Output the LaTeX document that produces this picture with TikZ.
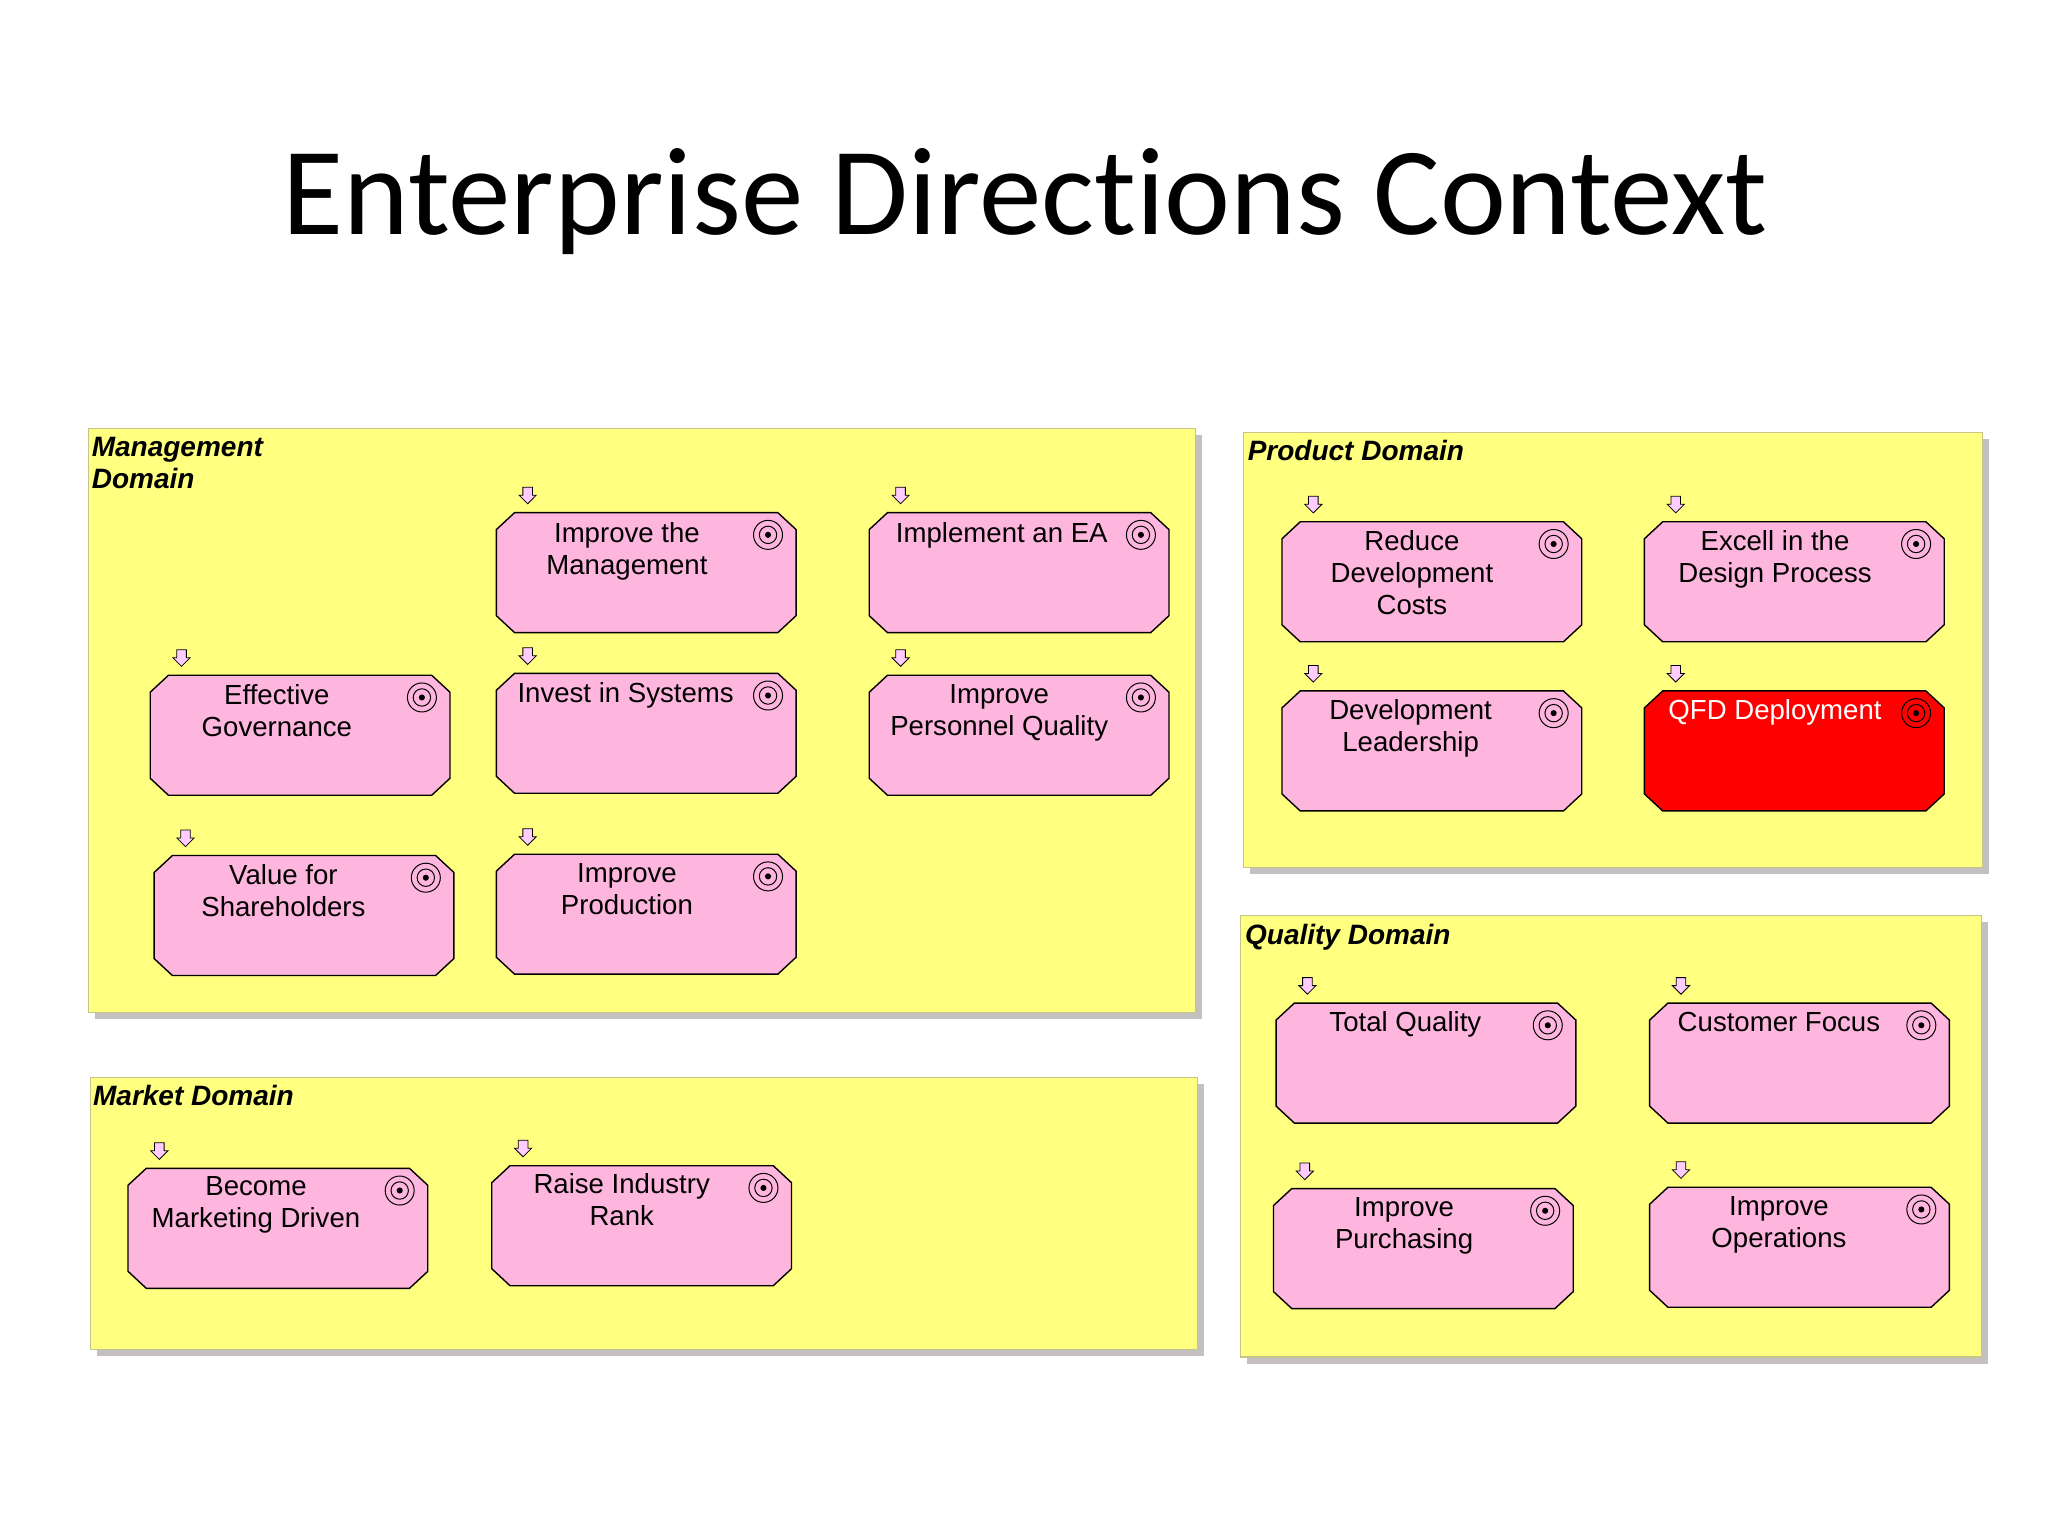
\documentclass[tikz,border=0pt]{standalone}
\usepackage{fontspec}
\setmainfont{Liberation Sans}
\newfontfamily\titlefont[Ligatures=NoCommon]{Carlito}
\usetikzlibrary{shapes.arrows}
\definecolor{panelyellow}{HTML}{FFFF80}
\definecolor{panelline}{HTML}{C4C48C}
\definecolor{panelshade}{HTML}{C4C0C0}
\definecolor{goalpink}{HTML}{FFB6DE}
\definecolor{arrowpink}{HTML}{FFCCFF}
\tikzset{
 panel/.style={fill=panelyellow,draw=panelline,line width=0.6pt},
 shade/.style={fill=panelshade},
 paneltitle/.style={anchor=north west,inner sep=0pt,align=left,font=\fontsize{14}{16}\selectfont\bfseries\itshape},
 goalbox/.style={anchor=north west,minimum width=149.5pt,minimum height=59.6pt,inner sep=0pt},
 octagon/.style={draw=black,line width=0.7pt,line join=miter},
 goaltext/.style={anchor=north,inner sep=0pt,align=center,font=\fontsize{13.8}{16}\selectfont},
 ring/.style={circle,draw=black,line width=0.5pt,inner sep=0pt},
 downmark/.style={single arrow,rotate=-90,single arrow head extend=1.9pt,single arrow tip angle=90,single arrow head indent=0pt,
  minimum height=8.3pt,minimum width=8.2pt,inner sep=2.2pt,fill=arrowpink,draw=black,line width=0.4pt},
}
\begin{document}
\begin{tikzpicture}[x=0.6531pt,y=-0.6531pt]
 \useasboundingbox (0,0) rectangle (1568,1176);
 \node[anchor=center,inner sep=0pt,font=\titlefont\fontsize{62.5}{70}\selectfont] (title) at (785,154) {Enterprise Directions Context};
 % domains
 \fill[shade](73,333) rectangle (920,780);
 \draw[panel](68,328) rectangle (915,775);
 \fill[shade](74,830) rectangle (922,1038);
 \draw[panel](69,825) rectangle (917,1033);
 \fill[shade](957,336) rectangle (1523,669);
 \draw[panel](952,331) rectangle (1518,664);
 \fill[shade](955,706) rectangle (1522,1044);
 \draw[panel](950,701) rectangle (1517,1039);
 \node[paneltitle] (mgmtlabel) at (70,334.5) {Management\\Domain};
 \node[paneltitle] (marketlabel) at (71,830.5) {Market Domain};
 \node[paneltitle] (productlabel) at (955,337) {Product Domain};
 \node[paneltitle] (qualitylabel) at (953,707.5) {Quality Domain};
 % goal frames
 \node[goalbox] (mgmt) at (380,392.5) {};
 \node[goalbox] (ea) at (665.5,392.5) {};
 \node[goalbox] (gov) at (115,517) {};
 \node[goalbox] (invest) at (380,515.5) {};
 \node[goalbox] (staff) at (665.5,517) {};
 \node[goalbox] (value) at (118,655) {};
 \node[goalbox] (prod) at (380,654) {};
 \node[goalbox] (mktg) at (98,894.5) {};
 \node[goalbox] (rank) at (376.5,892.5) {};
 \node[goalbox] (costs) at (981.5,399.5) {};
 \node[goalbox] (design) at (1259,399.5) {};
 \node[goalbox] (lead) at (981.5,529) {};
 \node[goalbox] (qfd) at (1259,529) {};
 \node[goalbox] (total) at (977,768) {};
 \node[goalbox] (focus) at (1263,768) {};
 \node[goalbox] (buy) at (975,910) {};
 \node[goalbox] (ops) at (1263,909) {};
 % octagon, target and arrow on every goal
 \foreach \g/\c in {mgmt/goalpink,ea/goalpink,gov/goalpink,invest/goalpink,staff/goalpink,value/goalpink,prod/goalpink,mktg/goalpink,rank/goalpink,costs/goalpink,design/goalpink,lead/goalpink,qfd/red,total/goalpink,focus/goalpink,buy/goalpink,ops/goalpink}{
  \draw[octagon,fill=\c]([shift={(14,0)}]\g.north west)--([shift={(-14,0)}]\g.north east)--([shift={(0,13)}]\g.north east)
   --([shift={(0,-13)}]\g.south east)--([shift={(-14,0)}]\g.south east)--([shift={(14,0)}]\g.south west)
   --([shift={(0,-13)}]\g.south west)--([shift={(0,13)}]\g.north west)--cycle;
  \node[downmark] (\g arrow) at ([shift={(24,-15)}]\g.north west) {};
  \node[ring,minimum size=14.5pt] (\g outer) at ([shift={(-21.5,17)}]\g.north east) {};
  \node[ring,minimum size=8.7pt] (\g inner) at (\g outer) {};
  \node[ring,fill=black,minimum size=2.5pt] (\g dot) at (\g outer) {};
 }
 % goal names
 \node[goaltext] (mgmttext) at (480,399.5) {Improve the\\Management};
 \node[goaltext] (eatext) at (767,399.5) {Implement an EA};
 \node[goaltext] (govtext) at (212,523.5) {Effective\\Governance};
 \node[goaltext] (investtext) at (479,522.5) {Invest in Systems};
 \node[goaltext] (stafftext) at (765,523.5) {Improve\\Personnel Quality};
 \node[goaltext] (valuetext) at (217,661.5) {Value for\\Shareholders};
 \node[goaltext] (prodtext) at (480,660.5) {Improve\\Production};
 \node[goaltext] (mktgtext) at (196,900.5) {Become\\Marketing Driven};
 \node[goaltext] (ranktext) at (476,898.5) {Raise Industry\\Rank};
 \node[goaltext] (coststext) at (1081,406) {Reduce\\Development\\Costs};
 \node[goaltext] (designtext) at (1359,406) {Excell in the\\Design Process};
 \node[goaltext] (leadtext) at (1080,535.5) {Development\\Leadership};
 \node[goaltext,text=white] (qfdtext) at (1359,535.5) {QFD Deployment};
 \node[goaltext] (totaltext) at (1076,774.5) {Total Quality};
 \node[goaltext] (focustext) at (1362,774.5) {Customer Focus};
 \node[goaltext] (buytext) at (1075,916.5) {Improve\\Purchasing};
 \node[goaltext] (opstext) at (1362,915.5) {Improve\\Operations};
\end{tikzpicture}
\end{document}
